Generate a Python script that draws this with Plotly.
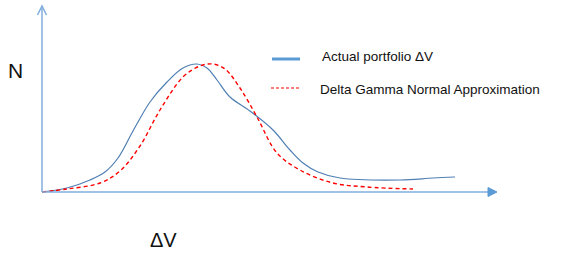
import plotly.graph_objects as go

# Data (x: ΔV units from origin, y: N units)
actual_x = [0, 25, 48, 63, 76, 91, 108, 125, 141, 155, 165, 175, 188, 208, 231, 248, 261, 276, 298, 358, 391, 413]
actual_y = [0, 4, 12, 20, 34, 61, 90, 110, 124, 128, 124, 112, 95, 81, 62, 42, 29, 20, 14, 12, 14, 15]

approx_x = [0, 25, 58, 78, 98, 118, 141, 158, 171, 183, 198, 215, 235, 258, 291, 325, 371]
approx_y = [0, 3, 9, 21, 46, 82, 115, 126, 128, 123, 104, 75, 39, 22, 9, 5, 3]

series_names = ["Actual portfolio ΔV", "Delta Gamma Normal Approximation"]
axis_labels = {"x": "ΔV", "y": "N"}

AXIS_COLOR = "#7FAEDD"
BLUE = "#4F7FB3"
RED = "#FF0000"
FONT = "Liberation Sans"

fig = go.Figure()
fig.add_trace(go.Scatter(x=actual_x, y=actual_y, mode="lines",
                         line=dict(color=BLUE, width=1.2, shape="spline", smoothing=1.0),
                         name=series_names[0], showlegend=False, hoverinfo="skip"))
fig.add_trace(go.Scatter(x=approx_x, y=approx_y, mode="lines",
                         line=dict(color=RED, width=1.4, dash="4px,3px", shape="spline", smoothing=1.0),
                         name=series_names[1], showlegend=False, hoverinfo="skip"))

shapes = [
    # y axis
    dict(type="line", x0=0, y0=0, x1=0, y1=186, line=dict(color=AXIS_COLOR, width=1.5)),
    dict(type="path", path="M -4.5,177 L 0,186 L 4.5,177", line=dict(color=AXIS_COLOR, width=1.5)),
    # x axis
    dict(type="line", x0=0, y0=0, x1=448, y1=0, line=dict(color=AXIS_COLOR, width=1.5)),
    dict(type="path", path="M 446,4.5 L 455,0 L 446,-4.5 Z", fillcolor="#5B9BD5",
         line=dict(color="#5B9BD5", width=1)),
    # legend samples
    dict(type="line", x0=230, y0=133, x1=258, y1=133, line=dict(color="#5B9BD5", width=3)),
    dict(type="line", x0=229, y0=104, x1=259, y1=104, line=dict(color=RED, width=1.2, dash="3px,2px")),
]

annotations = [
    dict(x=-27, y=122, text=axis_labels["y"], showarrow=False, font=dict(family=FONT, size=21, color="#111")),
    dict(x=121, y=-48, text=axis_labels["x"], showarrow=False, font=dict(family=FONT, size=20, color="#111")),
    dict(x=278, y=136, text=series_names[0], showarrow=False, xanchor="left",
         font=dict(family=FONT, size=13.5, color="#111")),
    dict(x=276, y=103, text=series_names[1], showarrow=False, xanchor="left",
         font=dict(family=FONT, size=13.5, color="#111")),
]

fig.update_layout(
    width=567, height=258,
    margin=dict(l=0, r=0, t=0, b=0),
    paper_bgcolor="white", plot_bgcolor="white",
    xaxis=dict(range=[-42, 525], visible=False, fixedrange=True),
    yaxis=dict(range=[-66, 192], visible=False, fixedrange=True),
    shapes=shapes, annotations=annotations,
    showlegend=False,
)

fig.write_html("out.html", post_script="document.body.style.margin='0';",
               config={"displayModeBar": False})
